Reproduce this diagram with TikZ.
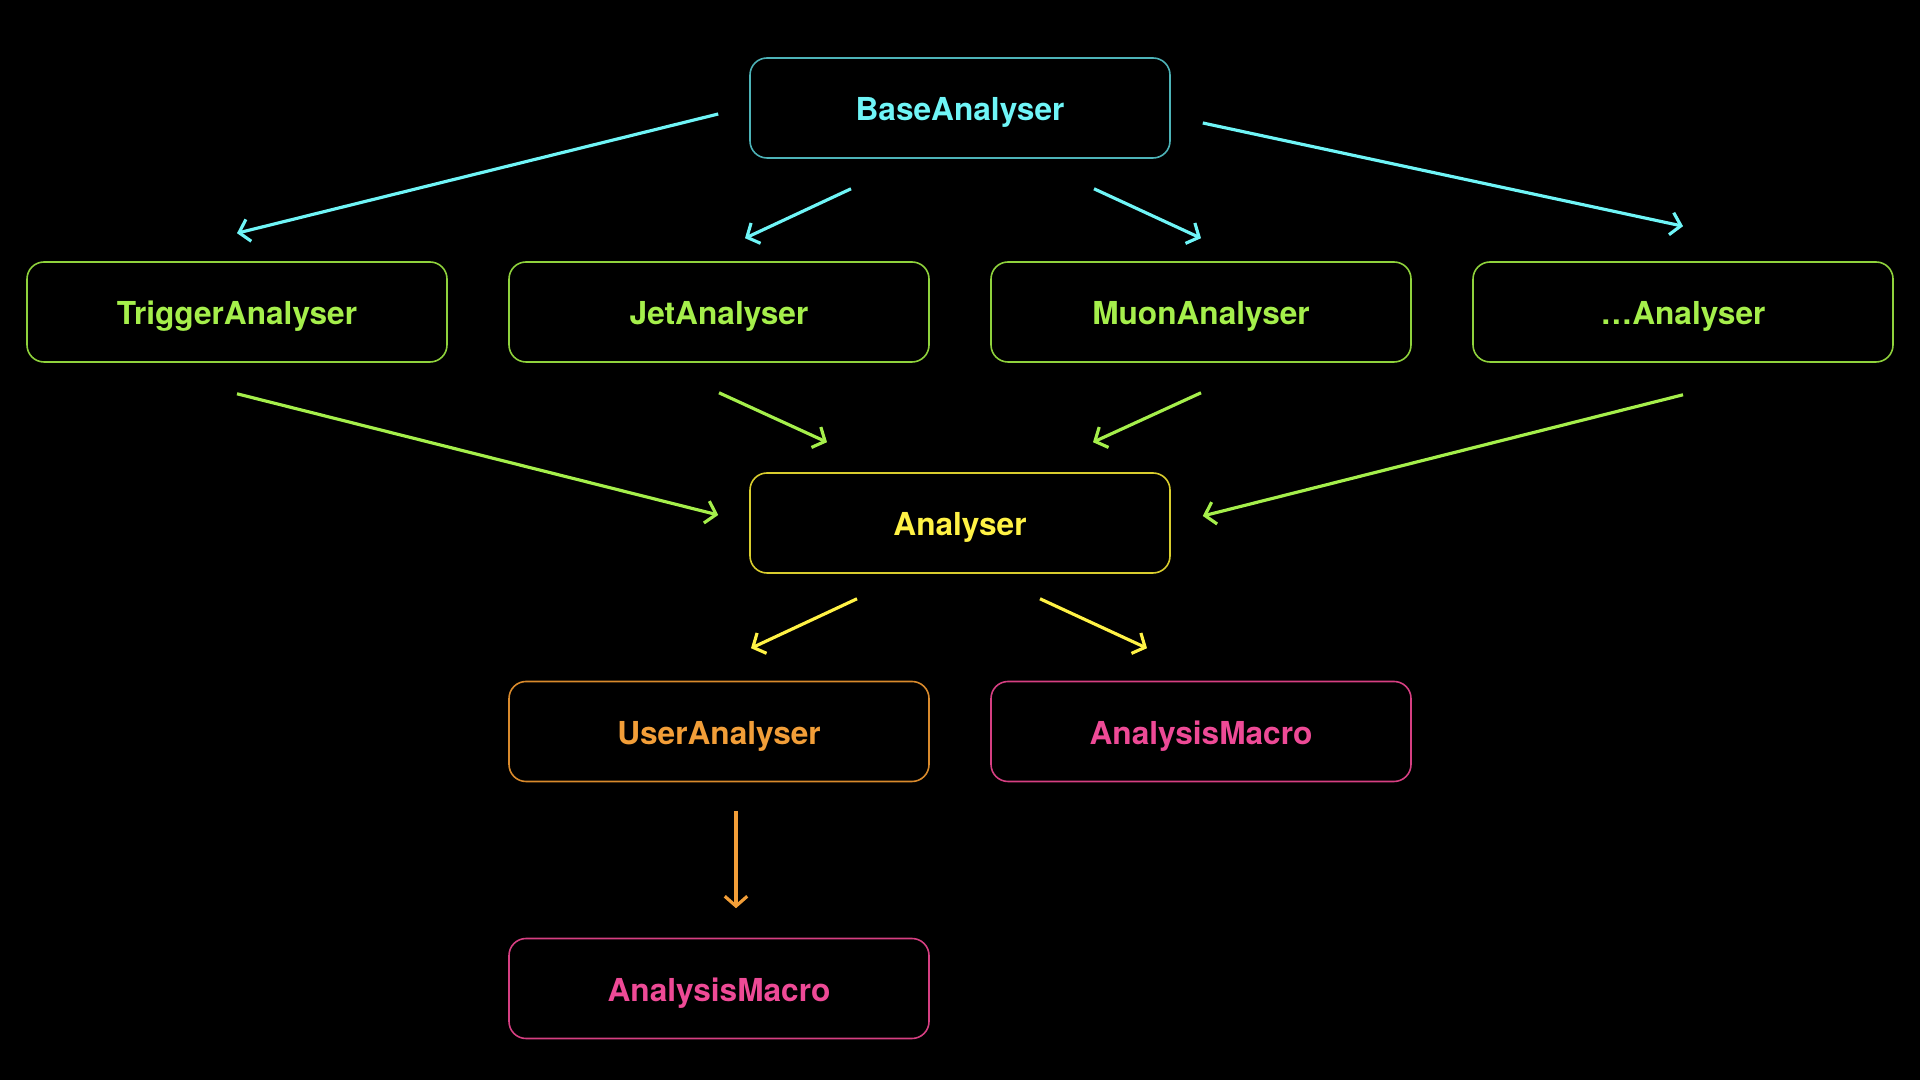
\documentclass[tikz,border=0pt]{standalone}
\usepackage{fontspec}
\setmainfont{TeX Gyre Heros}
\usetikzlibrary{calc,arrows.meta}

\definecolor{baseCol}{HTML}{6FF5F7}
\definecolor{baseEdge}{HTML}{4DB3B8}
\definecolor{subCol}{HTML}{A5EF4B}
\definecolor{subEdge}{HTML}{8FD23C}
\definecolor{anaCol}{HTML}{FFF245}
\definecolor{anaEdge}{HTML}{D9CD2E}
\definecolor{userCol}{HTML}{F29E38}
\definecolor{userEdge}{HTML}{D98A2C}
\definecolor{macroCol}{HTML}{EE4A96}
\definecolor{macroEdge}{HTML}{D63F82}

\begin{document}
\begin{tikzpicture}[
        box/.style={draw, line width=0.45pt, rounded corners=0.17cm,
            minimum width=4.2cm, minimum height=1cm,
            text height=7.4pt, text depth=0pt,
            font=\fontsize{9}{10}\selectfont\bfseries},
        base/.style={box, draw=baseEdge, text=baseCol},
        sub/.style={box, draw=subEdge, text=subCol},
        ana/.style={box, draw=anaEdge, text=anaCol},
        user/.style={box, draw=userEdge, text=userCol},
        macro/.style={box, draw=macroEdge, text=macroCol},
        arr/.style={line width=0.9pt, -{Straight Barb[length=2.8pt,width=6.4pt]}}
    ]
            \fill [black] (0,0) rectangle (19.2,10.8);

            \node (Base) at (9.6,9.72) [base] {BaseAnalyser};
            \node (Trig) at (2.37,7.68) [sub] {TriggerAnalyser};
            \node (Jet) at ($(Trig) + (4.82,0)$) [sub] {JetAnalyser};
            \node (Muon) at ($(Jet) + (4.82,0)$) [sub] {MuonAnalyser};
            \node (Etc) at ($(Muon) + (4.82,0)$) [sub] {…Analyser};
            \node (Ana) at ($(Base) + (0,-4.15)$) [ana] {Analyser};
            \node (User) at ($(Ana) + (-2.41,-2.085)$) [user] {UserAnalyser};
            \node (MacroR) at ($(User) + (4.82,0)$) [macro] {AnalysisMacro};
            \node (MacroL) at ($(User) + (0,-2.57)$) [macro] {AnalysisMacro};

            % BaseAnalyser to the sub analysers
            \draw [arr, baseCol] ($(Base.west) + (-0.31,-0.06)$) -- ($(Trig.north) + (0,0.28)$);
            \draw [arr, baseCol] ($(Base.south) + (-1.09,-0.3)$) -- ($(Jet.north) + (0.26,0.23)$);
            \draw [arr, baseCol] ($(Base.south) + (1.34,-0.3)$) -- ($(Muon.north) + (0,0.23)$);
            \draw [arr, baseCol] ($(Base.east) + (0.32,-0.15)$) -- ($(Etc.north) + (0,0.35)$);

            % sub analysers to Analyser
            \draw [arr, subCol] ($(Trig.south) + (0,-0.31)$) -- ($(Ana.west) + (-0.31,0.08)$);
            \draw [arr, subCol] ($(Jet.south) + (0,-0.3)$) -- ($(Ana.north) + (-1.33,0.3)$);
            \draw [arr, subCol] ($(Muon.south) + (0,-0.3)$) -- ($(Ana.north) + (1.33,0.3)$);
            \draw [arr, subCol] ($(Etc.south) + (0,-0.32)$) -- ($(Ana.east) + (0.32,0.07)$);

            % Analyser down
            \draw [arr, anaCol] ($(Ana.south) + (-1.03,-0.25)$) -- ($(User.north) + (0.32,0.325)$);
            \draw [arr, anaCol] ($(Ana.south) + (0.8,-0.25)$) -- ($(MacroR.north) + (-0.54,0.325)$);
            \draw [arr, userCol] ($(User.south) + (0.17,-0.285)$) -- ($(MacroL.north) + (0.17,0.295)$);

        \end{tikzpicture}
\end{document}
